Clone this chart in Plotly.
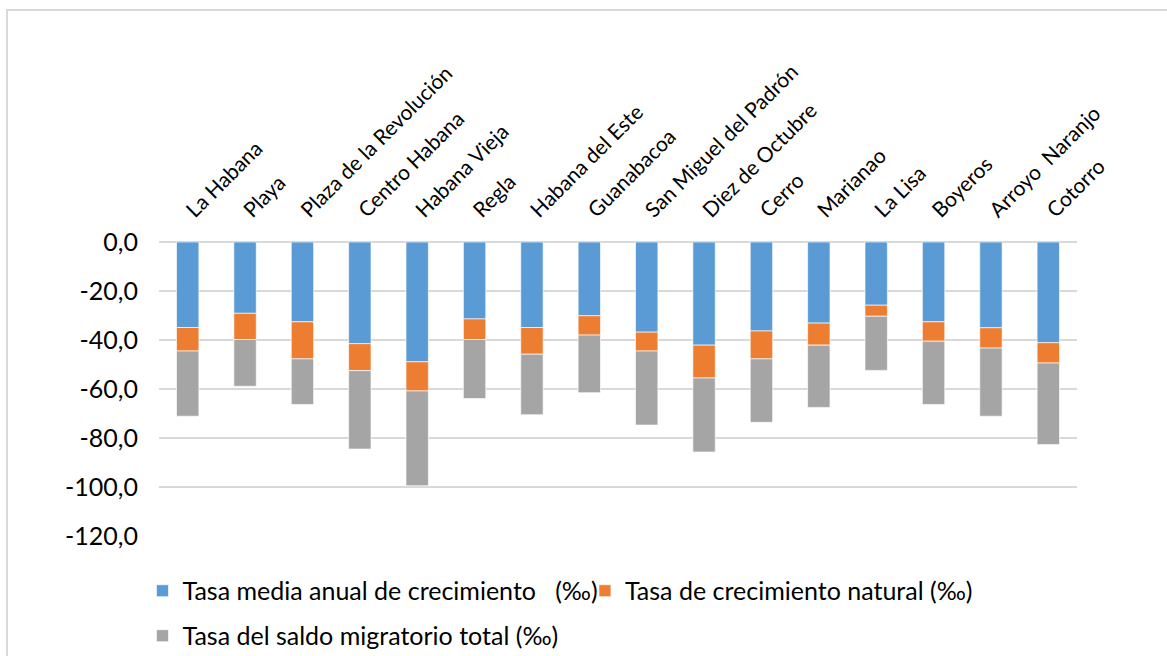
import plotly.graph_objects as go

municipios = ["La Habana", "Playa", "Plaza de la Revolución", "Centro Habana", "Habana Vieja",
              "Regla", "Habana del Este", "Guanabacoa", "San Miguel del Padrón", "Diez de Octubre",
              "Cerro", "Marianao", "La Lisa", "Boyeros", "Arroyo  Naranjo", "Cotorro"]
tasa_media = [-34.9, -29.1, -32.6, -41.5, -48.9, -31.4, -34.9, -30.1, -36.8, -42.1,
              -36.3, -33.1, -25.8, -32.6, -35.0, -41.1]
tasa_natural = [-9.6, -10.7, -15.1, -11.0, -11.9, -8.4, -10.9, -7.9, -7.7, -13.4,
                -11.4, -9.0, -4.5, -7.9, -8.3, -8.3]
tasa_migratorio = [-26.6, -19.1, -18.6, -32.0, -38.7, -24.1, -24.7, -23.5, -30.2, -30.2,
                   -25.9, -25.4, -22.1, -25.8, -27.8, -33.3]
y_ticks = [0, -20, -40, -60, -80, -100, -120]
y_ticktext = ["0,0", "-20,0", "-40,0", "-60,0", "-80,0", "-100,0", "-120,0"]
nombres = ["Tasa media anual de crecimiento\u00a0\u00a0\u00a0(‰)",
           "Tasa de crecimiento natural (‰)",
           "Tasa del saldo migratorio total (‰)"]
colores = ["#5B9BD5", "#ED7D31", "#A5A5A5"]

labels = [m.replace("  ", "\u00a0\u00a0") for m in municipios]
FONT = "Lato"

fig = go.Figure()
for i, (vals, leg) in enumerate(zip([tasa_media, tasa_natural, tasa_migratorio],
                                     ["legend", "legend2", "legend3"])):
    fig.add_trace(go.Bar(
        x=labels, y=vals, name=nombres[i], legend=leg,
        marker=dict(color=colores[i], line=dict(color="rgba(255,255,255,0.8)", width=0.8)),
    ))

leg_common = dict(orientation="h", font=dict(family=FONT, size=25, color="#000000"),
                  bgcolor="rgba(0,0,0,0)", yanchor="middle", xanchor="left")

fig.update_layout(
    width=1167, height=656,
    barmode="relative",
    bargap=0.61,
    paper_bgcolor="white", plot_bgcolor="white",
    margin=dict(l=159, r=90, t=242, b=120, autoexpand=False),
    font=dict(family=FONT, color="#000000"),
    showlegend=True,
    legend=dict(x=-0.018, y=-0.187, **leg_common),
    legend2=dict(x=0.464, y=-0.187, **leg_common),
    legend3=dict(x=-0.018, y=-0.34, **leg_common),
    xaxis=dict(side="top", tickangle=-45, showgrid=False, ticks="", showline=False,
               tickfont=dict(family=FONT, size=21, color="#000000"), ticklabelstandoff=15),
    yaxis=dict(range=[-120, 0], tickvals=y_ticks, ticktext=y_ticktext,
               showgrid=True, gridcolor="#d9d9d9", gridwidth=1.5,
               zeroline=True, zerolinecolor="#d9d9d9", zerolinewidth=1.5,
               showline=False, ticks="", ticklabelstandoff=20,
               tickfont=dict(family=FONT, size=25, color="#000000")),
    shapes=[dict(type="rect", xref="paper", yref="paper",
                 x0=(7 - 159) / 918, x1=(1180 - 159) / 918,
                 y0=(536 - 670) / 294, y1=(536 - 10) / 294,
                 line=dict(color="#d9d9d9", width=2), fillcolor="rgba(0,0,0,0)", layer="below")],
)

fig.write_html("out.html", config={"displayModeBar": False},
               post_script="document.body.style.margin='0';document.body.style.overflow='hidden';")
